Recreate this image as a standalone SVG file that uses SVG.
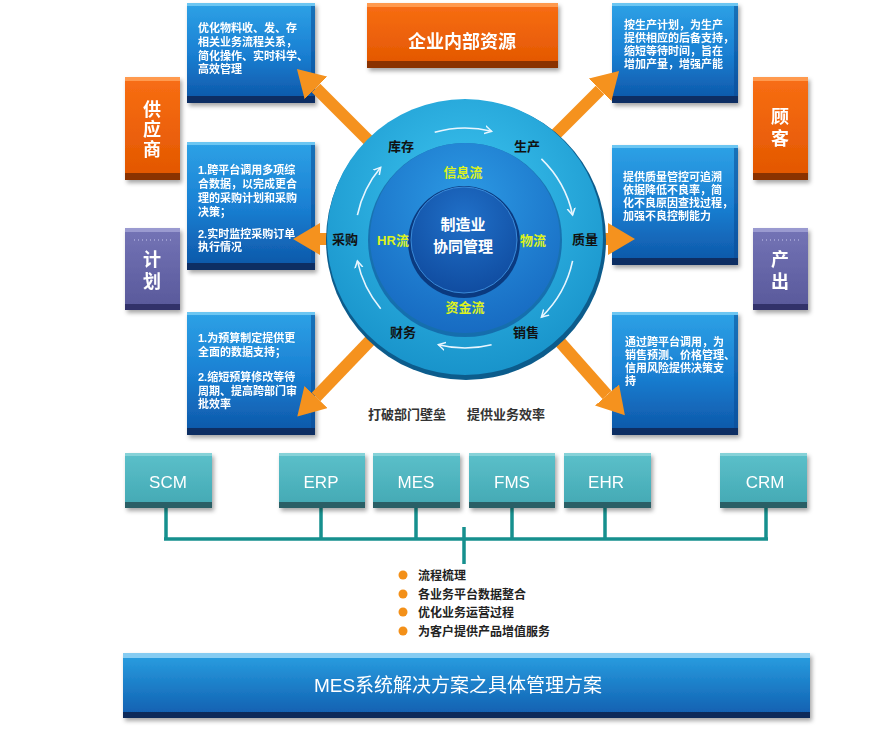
<svg xmlns="http://www.w3.org/2000/svg" width="893" height="731" viewBox="0 0 893 731">
<style>
text{font-family:"Liberation Sans","Noto Sans CJK SC",sans-serif;font-weight:bold}
.bx{font-size:11px;fill:#fff}
.side{font-size:18px;fill:#fff;text-anchor:middle}
.ol{font-size:13px;fill:#111;text-anchor:middle}
.il{font-size:13px;fill:#dcf21e;text-anchor:middle}
.cl{font-size:15px;fill:#fff;text-anchor:middle}
.tl{font-size:17px;fill:#fff;text-anchor:middle;font-weight:normal}
.bl{font-size:12px;fill:#222}
.bb{fill:url(#gBlue)}.bt{fill:#6cc6f2}.bd{fill:#0a2f64}.br{fill:#0b4a94;opacity:.55}
.ob{fill:url(#gOrange)}.ot{fill:#ff9a50}.od{fill:#8a3200}
.pb{fill:url(#gPurple)}.pt{fill:#9a9ad0}.pd{fill:#33336a}
.tb{fill:url(#gTeal)}.tt{fill:#86d2d8}.td{fill:#2a5e66}
.oa{stroke:#f5921e;stroke-width:12;fill:none;marker-end:url(#oah)}
.wa{stroke:#e8f6ff;stroke-width:1.6;fill:none;marker-end:url(#wah)}
.bus{stroke:#16908e;stroke-width:3.5;fill:none}
</style>
<defs>
<filter id="sh" x="-20%" y="-20%" width="140%" height="140%"><feDropShadow dx="2" dy="3" stdDeviation="2" flood-color="#000" flood-opacity="0.35"/></filter>
<linearGradient id="gBlue" x1="0" y1="0" x2="0" y2="1"><stop offset="0" stop-color="#2ea2e6"/><stop offset="0.5" stop-color="#1a80d3"/><stop offset="1" stop-color="#0d55a6"/></linearGradient>
<linearGradient id="gOrange" x1="0" y1="0" x2="0" y2="1"><stop offset="0" stop-color="#f86e14"/><stop offset="1" stop-color="#e25600"/></linearGradient>
<linearGradient id="gPurple" x1="0" y1="0" x2="0" y2="1"><stop offset="0" stop-color="#7474b6"/><stop offset="1" stop-color="#58589a"/></linearGradient>
<linearGradient id="gTeal" x1="0" y1="0" x2="0" y2="1"><stop offset="0" stop-color="#5cc0ca"/><stop offset="1" stop-color="#42a8b3"/></linearGradient>
<linearGradient id="gBan" x1="0" y1="0" x2="0" y2="1"><stop offset="0" stop-color="#2aa0e2"/><stop offset="1" stop-color="#0f5cae"/></linearGradient>
<radialGradient id="gOuter" cx="0.5" cy="0.35" r="0.7"><stop offset="0" stop-color="#3cc4f0"/><stop offset="1" stop-color="#1690c8"/></radialGradient>
<radialGradient id="gMid" cx="0.5" cy="0.3" r="0.75"><stop offset="0" stop-color="#2c9ae4"/><stop offset="1" stop-color="#1668c0"/></radialGradient>
<radialGradient id="gIn" cx="0.5" cy="0.3" r="0.75"><stop offset="0" stop-color="#2070c8"/><stop offset="1" stop-color="#0f4a9e"/></radialGradient>
<marker id="oah" markerUnits="userSpaceOnUse" markerWidth="28" markerHeight="32" refX="0" refY="16" orient="auto"><path d="M0,0 L27,16 L0,32 Z" fill="#f5921e"/></marker>
<marker id="wah" markerUnits="userSpaceOnUse" markerWidth="10" markerHeight="10" refX="7" refY="5" orient="auto"><path d="M0,1 L7,5 L0,9" fill="none" stroke="#e8f6ff" stroke-width="1.5"/></marker>
</defs>
<rect width="893" height="731" fill="#fff"/>

<g id="top-banner" filter="url(#sh)">
<rect class="ob" x="367" y="3" width="191" height="65"/><rect class="ot" x="367" y="3" width="191" height="4"/><rect class="od" x="367" y="61" width="191" height="7"/>
<text class="side" x="462" y="48">企业内部资源</text>
</g>

<g id="supplier" filter="url(#sh)">
<rect class="ob" x="125" y="77" width="55" height="103"/><rect class="ot" x="125" y="77" width="55" height="4"/><rect class="od" x="125" y="173" width="55" height="7"/>
<text class="side" x="152" y="116">供</text><text class="side" x="152" y="136">应</text><text class="side" x="152" y="156">商</text>
</g>
<g id="plan" filter="url(#sh)">
<rect class="pb" x="125" y="228" width="55" height="82"/><rect class="pt" x="125" y="228" width="55" height="4"/><rect class="pd" x="125" y="304" width="55" height="6"/>
<line x1="134" y1="240" x2="172" y2="240" stroke="#c8c8ee" stroke-width="1" stroke-dasharray="1 3"/>
<text class="side" x="152" y="266">计</text><text class="side" x="152" y="288">划</text>
</g>
<g id="customer" filter="url(#sh)">
<rect class="ob" x="753" y="77" width="55" height="103"/><rect class="ot" x="753" y="77" width="55" height="4"/><rect class="od" x="753" y="173" width="55" height="7"/>
<text class="side" x="780" y="123">顾</text><text class="side" x="780" y="145">客</text>
</g>
<g id="output" filter="url(#sh)">
<rect class="pb" x="753" y="228" width="55" height="82"/><rect class="pt" x="753" y="228" width="55" height="4"/><rect class="pd" x="753" y="304" width="55" height="6"/>
<line x1="762" y1="240" x2="800" y2="240" stroke="#c8c8ee" stroke-width="1" stroke-dasharray="1 3"/>
<text class="side" x="780" y="266">产</text><text class="side" x="780" y="288">出</text>
</g>

<g id="box-tl" filter="url(#sh)">
<rect class="bb" x="187" y="3" width="128" height="100"/><rect class="bt" x="187" y="3" width="128" height="3"/><rect class="br" x="311" y="6" width="4" height="90"/><rect class="bd" x="187" y="96" width="128" height="7"/>
<text class="bx"><tspan x="198" y="32">优化物料收、发、存</tspan><tspan x="198" y="46">相关业务流程关系，</tspan><tspan x="198" y="60">简化操作、实时科学、</tspan><tspan x="198" y="73">高效管理</tspan></text>
</g>
<g id="box-tr" filter="url(#sh)">
<rect class="bb" x="612" y="3" width="126" height="100"/><rect class="bt" x="612" y="3" width="126" height="3"/><rect class="br" x="734" y="6" width="4" height="90"/><rect class="bd" x="612" y="96" width="126" height="7"/>
<text class="bx"><tspan x="624" y="29">按生产计划，为生产</tspan><tspan x="624" y="42">提供相应的后备支持，</tspan><tspan x="624" y="55">缩短等待时间，旨在</tspan><tspan x="624" y="68">增加产量，增强产能</tspan></text>
</g>
<g id="box-ml" filter="url(#sh)">
<rect class="bb" x="187" y="142" width="128" height="128"/><rect class="bt" x="187" y="142" width="128" height="3"/><rect class="br" x="311" y="145" width="4" height="118"/><rect class="bd" x="187" y="263" width="128" height="7"/>
<text class="bx"><tspan x="198" y="174">1.跨平台调用多项综</tspan><tspan x="198" y="188">合数据，以完成更合</tspan><tspan x="198" y="202">理的采购计划和采购</tspan><tspan x="198" y="216">决策；</tspan><tspan x="198" y="238">2.实时监控采购订单</tspan><tspan x="198" y="251">执行情况</tspan></text>
</g>
<g id="box-mr" filter="url(#sh)">
<rect class="bb" x="612" y="145" width="126" height="120"/><rect class="bt" x="612" y="145" width="126" height="3"/><rect class="br" x="734" y="148" width="4" height="110"/><rect class="bd" x="612" y="258" width="126" height="7"/>
<text class="bx"><tspan x="623" y="181">提供质量管控可追溯</tspan><tspan x="623" y="194">依据降低不良率，简</tspan><tspan x="623" y="207">化不良原因查找过程，</tspan><tspan x="623" y="220">加强不良控制能力</tspan></text>
</g>
<g id="box-bl" filter="url(#sh)">
<rect class="bb" x="187" y="312" width="128" height="123"/><rect class="bt" x="187" y="312" width="128" height="3"/><rect class="br" x="311" y="315" width="4" height="113"/><rect class="bd" x="187" y="428" width="128" height="7"/>
<text class="bx"><tspan x="198" y="342">1.为预算制定提供更</tspan><tspan x="198" y="356">全面的数据支持；</tspan><tspan x="198" y="381">2.缩短预算修改等待</tspan><tspan x="198" y="395">周期、提高跨部门审</tspan><tspan x="198" y="408">批效率</tspan></text>
</g>
<g id="box-br" filter="url(#sh)">
<rect class="bb" x="612" y="312" width="126" height="123"/><rect class="bt" x="612" y="312" width="126" height="3"/><rect class="br" x="734" y="315" width="4" height="113"/><rect class="bd" x="612" y="428" width="126" height="7"/>
<text class="bx"><tspan x="625" y="346">通过跨平台调用，为</tspan><tspan x="625" y="359">销售预测、价格管理、</tspan><tspan x="625" y="372">信用风险提供决策支</tspan><tspan x="625" y="385">持</tspan></text>
</g>

<g id="connectors">
<line class="oa" x1="385" y1="157" x2="316" y2="88"/>
<line class="oa" x1="545" y1="145" x2="600" y2="90"/>
<line class="oa" x1="345" y1="239" x2="320" y2="239"/>
<line class="oa" x1="590" y1="239" x2="608" y2="239"/>
<line class="oa" x1="385" y1="325" x2="316" y2="397"/>
<line class="oa" x1="545" y1="325" x2="607" y2="395"/>
<path class="bus" d="M166,508 V539 M321,508 V539 M416,508 V539 M512,508 V539 M605,508 V539 M766,508 V539 M164,539 H768 M464,527 V564"/>
</g>

<g id="hub">
<circle cx="466" cy="240" r="140" fill="#0c5c8c"/>
<circle cx="465" cy="237" r="138" fill="url(#gOuter)"/>
<circle cx="465" cy="240" r="97" fill="#0d4f94" opacity="0.6"/>
<circle cx="465" cy="238" r="95" fill="url(#gMid)"/>
<circle cx="464" cy="242" r="56" fill="#0a3a80"/>
<circle cx="464" cy="240" r="53" fill="url(#gIn)" stroke="#3a8ad8" stroke-width="1"/>
<path class="wa" d="M434.7,132.3 A110,110 0 0 1 491.6,131.3"/>
<path class="wa" d="M541.4,158.9 A110,110 0 0 1 572.6,215.1"/>
<path class="wa" d="M572.6,260.9 A110,110 0 0 1 541.4,317.1"/>
<path class="wa" d="M491.6,344.7 A110,110 0 0 1 438.4,344.7"/>
<path class="wa" d="M380.7,308.7 A110,110 0 0 1 357.4,260.9"/>
<path class="wa" d="M357.4,215.1 A110,110 0 0 1 380.7,167.3"/>
<text class="ol" x="401" y="151">库存</text>
<text class="ol" x="527" y="151">生产</text>
<text class="ol" x="345" y="244">采购</text>
<text class="ol" x="585" y="244">质量</text>
<text class="ol" x="403" y="337">财务</text>
<text class="ol" x="526" y="337">销售</text>
<text class="il" x="463" y="177">信息流</text>
<text class="il" x="393" y="245">HR流</text>
<text class="il" x="533" y="245">物流</text>
<text class="il" x="465" y="312">资金流</text>
<text class="cl" x="463" y="230">制造业</text>
<text class="cl" x="463" y="252">协同管理</text>
</g>

<g id="slogan">
<text x="368" y="419" style="font-size:13px;fill:#333">打破部门壁垒</text>
<text x="467" y="419" style="font-size:13px;fill:#333">提供业务效率</text>
</g>

<g id="sys-scm" filter="url(#sh)"><rect class="tb" x="125" y="453" width="87" height="55"/><rect class="tt" x="125" y="453" width="87" height="3"/><rect class="td" x="125" y="502" width="87" height="6"/><text class="tl" x="168" y="488">SCM</text></g>
<g id="sys-erp" filter="url(#sh)"><rect class="tb" x="279" y="453" width="86" height="55"/><rect class="tt" x="279" y="453" width="86" height="3"/><rect class="td" x="279" y="502" width="86" height="6"/><text class="tl" x="321" y="488">ERP</text></g>
<g id="sys-mes" filter="url(#sh)"><rect class="tb" x="373" y="453" width="87" height="55"/><rect class="tt" x="373" y="453" width="87" height="3"/><rect class="td" x="373" y="502" width="87" height="6"/><text class="tl" x="416" y="488">MES</text></g>
<g id="sys-fms" filter="url(#sh)"><rect class="tb" x="469" y="453" width="86" height="55"/><rect class="tt" x="469" y="453" width="86" height="3"/><rect class="td" x="469" y="502" width="86" height="6"/><text class="tl" x="512" y="488">FMS</text></g>
<g id="sys-ehr" filter="url(#sh)"><rect class="tb" x="564" y="453" width="87" height="55"/><rect class="tt" x="564" y="453" width="87" height="3"/><rect class="td" x="564" y="502" width="87" height="6"/><text class="tl" x="606" y="488">EHR</text></g>
<g id="sys-crm" filter="url(#sh)"><rect class="tb" x="720" y="453" width="87" height="55"/><rect class="tt" x="720" y="453" width="87" height="3"/><rect class="td" x="720" y="502" width="87" height="6"/><text class="tl" x="765" y="488">CRM</text></g>

<g id="bullets">
<circle cx="403" cy="575" r="4.5" fill="#f39019"/><text class="bl" x="418" y="579.5">流程梳理</text>
<circle cx="403" cy="594" r="4.5" fill="#f39019"/><text class="bl" x="418" y="598.5">各业务平台数据整合</text>
<circle cx="403" cy="612" r="4.5" fill="#f39019"/><text class="bl" x="418" y="616.5">优化业务运营过程</text>
<circle cx="403" cy="631" r="4.5" fill="#f39019"/><text class="bl" x="418" y="635.5">为客户提供产品增值服务</text>
</g>

<g id="bottom-banner" filter="url(#sh)">
<rect x="123" y="653" width="687" height="65" fill="url(#gBan)"/>
<rect x="123" y="653" width="687" height="5" fill="#86ccf2"/>
<rect x="123" y="712" width="687" height="6" fill="#0a2a5a"/>
<text x="458" y="692" style="font-size:19px;fill:#fff;text-anchor:middle;font-weight:normal">MES系统解决方案之具体管理方案</text>
</g>
</svg>
